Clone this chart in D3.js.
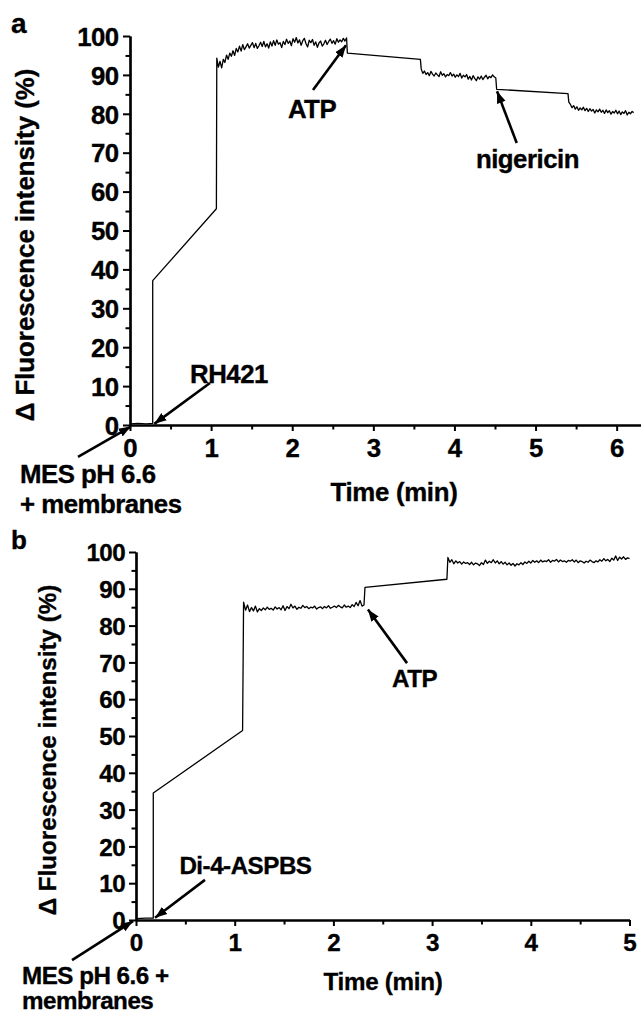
<!DOCTYPE html>
<html><head><meta charset="utf-8">
<script src="https://cdn.jsdelivr.net/npm/d3@7"></script>
<style>
body{margin:0;background:#fff}
svg{display:block}
text{font-family:"Liberation Sans",Arial,sans-serif;font-weight:bold;fill:#000;stroke:#000;stroke-width:0.35px}
</style>
</head><body>
<svg id="chart" width="641" height="1016"></svg>
<script>
// ---------------- DATA ----------------
const yTicks = [0,10,20,30,40,50,60,70,80,90,100];
const yMinorTicks = [5,15,25,35,45,55,65,75,85,95];
const aXTicks = [0,1,2,3,4,5,6];
const aXMinorTicks = [0.5,1.5,2.5,3.5,4.5,5.5];
const bXTicks = [0,1,2,3,4,5];
const bXMinorTicks = [0.5,1.5,2.5,3.5,4.5];
const sampleStep = 0.02; // min between recorded readings on the plateaus

// Panel a (RH421)
const aStart = [[0,0.3],[0.1,0.4],[0.2,0.3],[0.28,0.4],[0.28,37.1],[1.065,55.6]];
const aPlateau1Start = 1.07;
const aPlateau1 = [94.3,92.0,93.5,91.8,94.0,93.2,95.1,94.0,95.6,94.8,
  96.2,95.0,96.8,95.9,97.4,96.1,97.8,96.5,97.2,98.0,
  96.9,97.6,98.3,97.0,98.1,96.8,97.5,98.4,97.3,98.6,
  97.2,98.0,96.9,98.5,97.4,98.8,97.6,99.0,97.9,98.3,
  97.0,98.6,97.8,99.2,98.1,98.7,97.5,99.3,98.4,99.6,
  98.2,99.0,97.6,98.8,99.4,98.0,97.2,98.9,98.3,99.1,
  97.6,98.5,97.1,98.2,98.7,97.4,98.0,98.9,97.8,98.6,
  99.2,98.1,98.8,97.9,99.3,98.4,99.0,98.5,99.4,98.7,99.5];
const aBridge1 = [[2.68,95.6],[3.58,94.0]];
const aPlateau2Start = 3.59;
const aPlateau2 = [91.6,90.4,91.0,90.1,90.6,89.8,90.9,90.2,89.7,90.5,
  90.0,89.6,90.8,89.9,90.3,89.5,90.1,89.8,90.6,89.7,
  90.2,89.4,90.0,89.6,90.4,89.2,89.9,89.5,90.1,88.9,
  89.6,88.7,89.8,89.1,88.5,89.5,88.9,89.7,88.8,89.4,
  89.9,89.0,89.6,89.3,90.0,89.5,89.2];
const aBridge2 = [[4.52,86.3],[5.40,85.2]];
const aPlateau3Start = 5.41;
const aPlateau3 = [83.0,82.4,81.6,82.1,81.2,81.8,80.9,81.5,81.0,81.7,
  80.8,81.4,80.6,81.3,80.7,81.1,80.2,81.0,80.5,81.2,
  80.4,80.9,80.1,81.0,80.3,80.8,79.9,80.6,80.2,80.9,
  80.0,80.7,79.8,80.5,80.1,80.8,79.7,80.4,80.0,80.6,80.3];

// Panel b (Di-4-ASPBS)
const bStart = [[0,0.4],[0.1,0.5],[0.175,0.5],[0.175,34.5],[1.08,51.5]];
const bPlateau1Start = 1.09;
const bPlateau1 = [86.4,84.2,85.6,83.8,84.9,84.0,85.3,83.7,84.6,84.1,
  84.8,84.3,85.0,84.4,84.7,84.2,85.1,84.5,84.9,84.3,
  85.4,84.1,85.2,84.6,85.8,84.8,85.3,84.4,85.0,84.7,
  85.5,84.9,85.2,84.6,85.0,84.8,85.3,84.5,84.9,85.1,
  84.6,85.2,84.8,85.4,84.7,85.0,85.3,84.9,85.5,85.1,
  84.8,85.6,85.0,85.3,84.9,85.7,85.2,86.3,85.4,86.8,
  85.3,85.6];
const bBridge1 = [[2.32,90.4],[3.15,92.6]];
const bPlateau2Start = 3.16;
const bPlateau2 = [98.5,97.2,97.9,96.8,97.6,97.0,97.4,96.7,97.3,96.9,
  97.1,96.6,97.2,96.5,97.0,96.8,96.3,97.1,96.6,97.8,
  96.9,97.5,97.1,97.9,97.0,97.6,96.8,97.4,96.7,97.2,
  96.5,97.0,96.4,96.9,96.2,96.8,96.5,97.1,96.6,97.3,
  96.9,97.5,97.0,97.7,97.2,97.6,97.1,97.8,97.3,97.6,
  97.4,97.9,97.2,97.7,97.5,98.0,97.3,97.8,97.4,97.6,
  97.2,97.7,97.5,97.9,97.3,97.8,97.1,97.6,97.4,97.0,
  97.5,97.2,97.8,97.4,97.1,97.6,97.3,97.9,97.5,98.2,
  97.6,98.0,97.4,98.3,97.8,98.9,97.7,98.6,98.1,98.7,
  98.0,98.4,98.2];

// Annotations (data units: [time, value])
const aNotes = [
  {lines:["ATP"], at:[2.244,78.9], anchor:"middle", from:[2.256,86.1], to:[2.663,97.6]},
  {lines:["nigericin"], at:[4.90,66.1], anchor:"middle", from:[4.768,72.5], to:[4.525,85.8]},
  {lines:["RH421"], at:[1.22,10.8], anchor:"middle", from:[0.986,10.8], to:[0.30,0.3]},
  {lines:["MES pH 6.6","+ membranes"], at:[-1.356,-15.0], anchor:"start", from:[-0.641,-8.2], to:[0.01,-0.4]}
];
const bNotes = [
  {lines:["ATP"], at:[2.822,63.2], anchor:"middle", from:[2.746,69.8], to:[2.35,84.4]},
  {lines:["Di-4-ASPBS"], at:[1.109,12.5], anchor:"middle", from:[0.699,10.9], to:[0.193,0.6]},
  {lines:["MES pH 6.6 +","membranes"], at:[-1.155,-17.5], anchor:"start", from:[-0.648,-10.9], to:[-0.03,-0.3]}
];

const yTitle = "\u0394 Fluorescence intensity (%)";
const xTitle = "Time (min)";

// ---------------- HELPERS ----------------
function plateau(start, vals){ return vals.map((v,i)=>[+(start+i*sampleStep).toFixed(3), v]); }

const aTrace = [].concat(aStart, plateau(aPlateau1Start,aPlateau1), aBridge1,
  plateau(aPlateau2Start,aPlateau2), aBridge2, plateau(aPlateau3Start,aPlateau3));
const bTrace = [].concat(bStart, plateau(bPlateau1Start,bPlateau1), bBridge1,
  plateau(bPlateau2Start,bPlateau2));

const svg = d3.select("#chart");
const defs = svg.append("defs");
defs.append("marker").attr("id","ah").attr("markerUnits","userSpaceOnUse")
  .attr("markerWidth",13).attr("markerHeight",10).attr("refX",12).attr("refY",5)
  .attr("orient","auto").attr("viewBox","0 0 13 10")
  .append("path").attr("d","M0,0.5 L12,5 L0,9.5 Z").attr("fill","#000");

function drawPanel(p){
  const x = d3.scaleLinear().domain(p.xDomain).range(p.xRange);
  const y = d3.scaleLinear().domain([0,100]).range(p.yRange);
  const g = svg.append("g");
  const fs = p.font;

  // y axis
  const ya = g.append("g").attr("transform",`translate(${p.xRange[0]},0)`);
  ya.call(d3.axisLeft(y).tickValues(yMinorTicks).tickSize(4.5).tickFormat("").tickSizeOuter(0));
  const yb = g.append("g").attr("transform",`translate(${p.xRange[0]},0)`);
  yb.call(d3.axisLeft(y).tickValues(yTicks).tickSize(7).tickPadding(p.yPad).tickSizeOuter(0).tickFormat(d3.format("d")));
  yb.selectAll("text").style("font-size",fs+"px").attr("dy","0.36em").attr("letter-spacing","-0.6");

  // x axis
  const xa = g.append("g").attr("transform",`translate(0,${p.yRange[0]})`);
  xa.call(d3.axisBottom(x).tickValues(p.xMinor).tickSize(4.5).tickFormat("").tickSizeOuter(0));
  const xb = g.append("g").attr("transform",`translate(0,${p.yRange[0]})`);
  xb.call(d3.axisBottom(x).tickValues(p.xTicks).tickSize(6).tickPadding(p.xPad).tickSizeOuter(0).tickFormat(d3.format("d")));
  xb.selectAll("text").style("font-size",fs+"px");

  g.selectAll(".domain").attr("stroke","#000").attr("stroke-width",2.2);
  g.selectAll(".tick line").attr("stroke","#000").attr("stroke-width",2);
  g.selectAll(".tick text").attr("fill","#000").attr("stroke","#000").attr("stroke-width",0.35);

  // trace
  g.append("path").datum(p.trace)
    .attr("fill","none").attr("stroke","#000").attr("stroke-width",1.3).attr("stroke-linejoin","round")
    .attr("d", d3.line().x(d=>x(d[0])).y(d=>y(d[1])));

  // annotations
  p.notes.forEach(n=>{
    g.append("line").attr("x1",x(n.from[0])).attr("y1",y(n.from[1]))
      .attr("x2",x(n.to[0])).attr("y2",y(n.to[1]))
      .attr("stroke","#000").attr("stroke-width",2.6).attr("marker-end","url(#ah)");
    const t = g.append("text").attr("x",x(n.at[0])).attr("y",y(n.at[1]))
      .attr("text-anchor",n.anchor).style("font-size",fs+"px").attr("letter-spacing","-0.5");
    n.lines.forEach((l,i)=>t.append("tspan").attr("x",x(n.at[0])).attr("dy",i===0?0:p.lineGap).text(l));
  });

  // titles
  g.append("text").attr("transform",`translate(${p.yTitlePos[0]},${p.yTitlePos[1]}) rotate(-90)`)
    .attr("text-anchor","middle").style("font-size",fs+"px").text(yTitle);
  g.append("text").attr("x",p.xTitlePos[0]).attr("y",p.xTitlePos[1])
    .attr("text-anchor","middle").style("font-size",fs+"px").attr("letter-spacing","-0.3").text(xTitle);
  g.append("text").attr("x",p.letterPos[0]).attr("y",p.letterPos[1])
    .style("font-size",p.letterFont+"px").text(p.letter);
}

drawPanel({
  xDomain:[0,6.3], xRange:[130,641], yRange:[425,36], font:25.8, yPad:4.5, xPad:8,
  xTicks:aXTicks, xMinor:aXMinorTicks, trace:aTrace, notes:aNotes, lineGap:30,
  yTitlePos:[34,245], xTitlePos:[394,501], letter:"a", letterPos:[11,33], letterFont:28
});
drawPanel({
  xDomain:[0,5], xRange:[136,629.5], yRange:[920,552], font:24.2, yPad:4, xPad:7.5,
  xTicks:bXTicks, xMinor:bXMinorTicks, trace:bTrace, notes:bNotes, lineGap:25,
  yTitlePos:[56,750], xTitlePos:[383,990], letter:"b", letterPos:[11,549], letterFont:26
});
</script>
</body></html>
